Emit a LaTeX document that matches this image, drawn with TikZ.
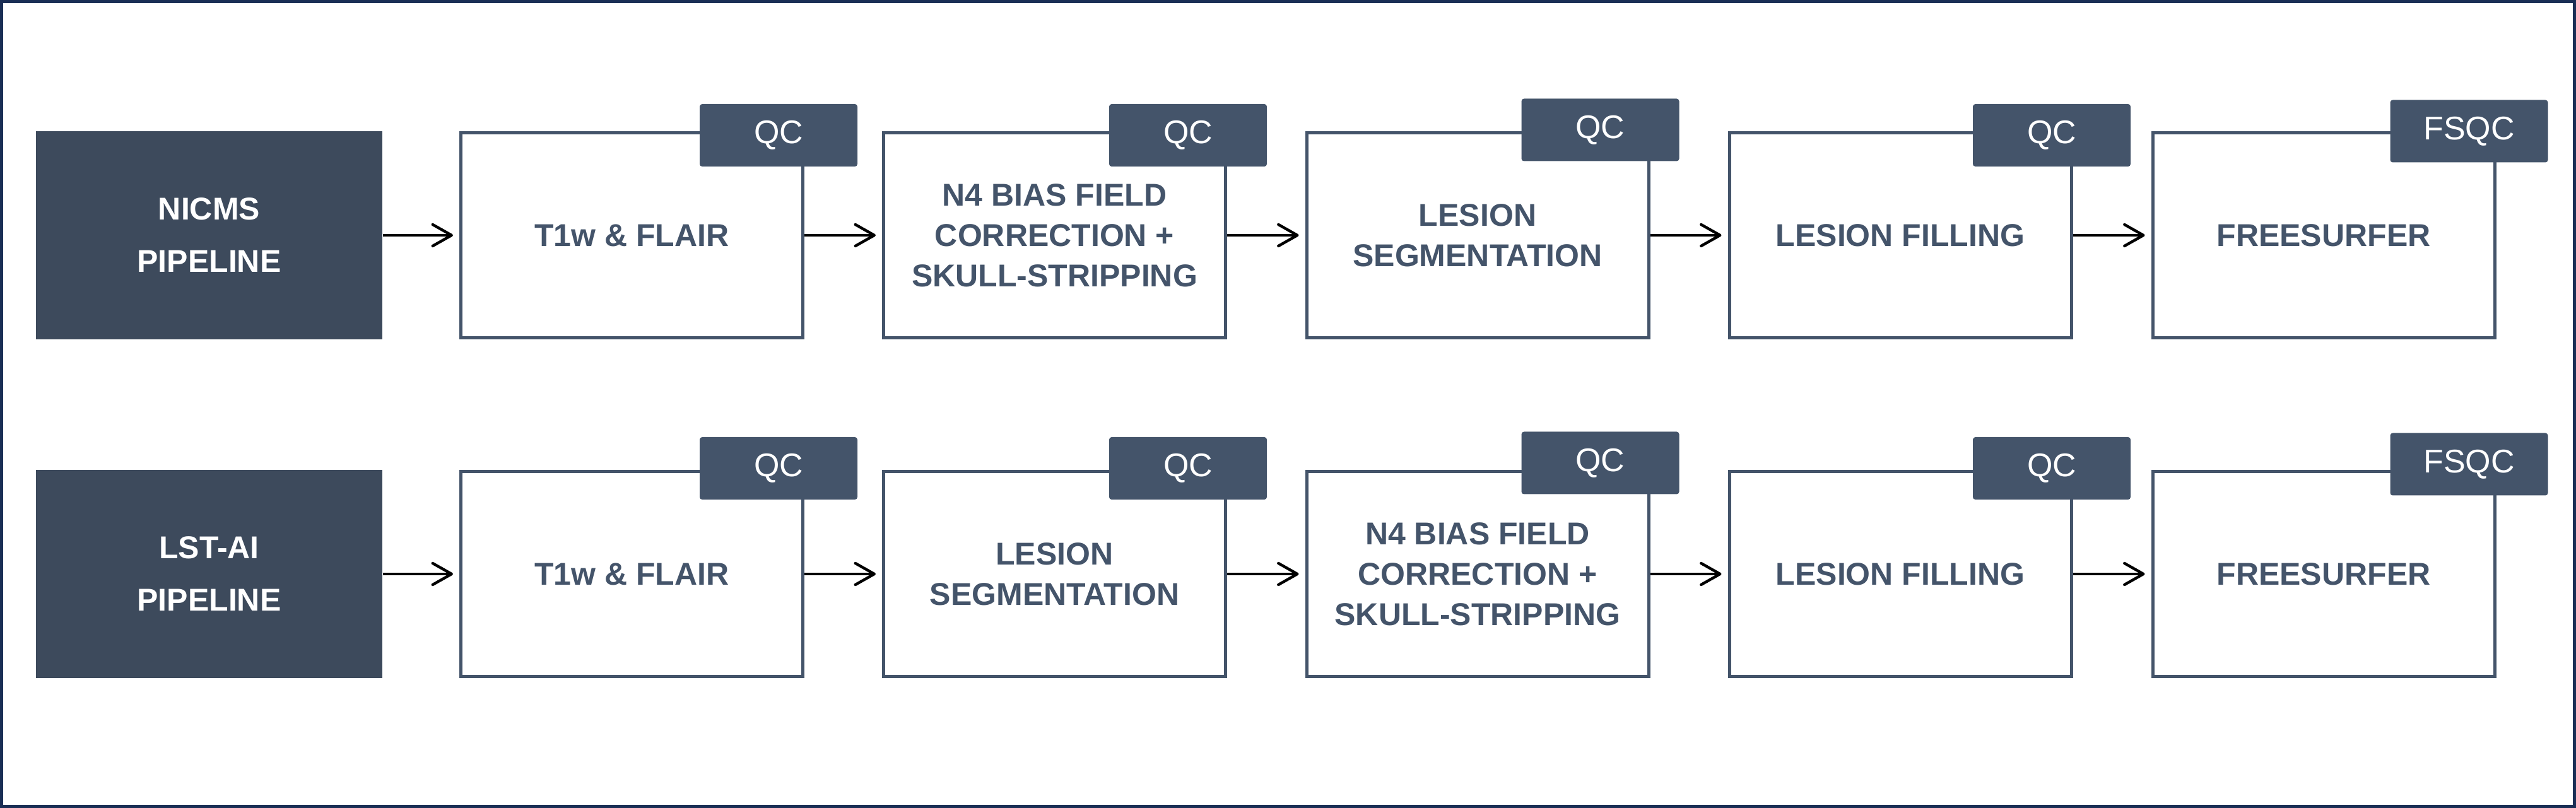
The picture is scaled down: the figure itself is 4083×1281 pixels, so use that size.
\documentclass[tikz,border=0pt]{standalone}
\usepackage{fontspec}
\setmainfont{Liberation Sans}
\usetikzlibrary{arrows.meta}
\definecolor{slate}{HTML}{44546A}
\definecolor{pipefill}{HTML}{3D4A5C}
\definecolor{framecol}{HTML}{1A2E55}
\begin{document}
\begin{tikzpicture}[x=0.25pt,y=-0.25pt,
  stagebox/.style={draw=slate, line width=1.25pt, fill=white, minimum width=135.5pt, minimum height=81.25pt, inner sep=0pt, align=center, text=slate, font=\bfseries\fontsize{12.5}{16}\selectfont},
  pipebox/.style={fill=pipefill, minimum width=137.25pt, minimum height=82.5pt, inner sep=0pt, align=center, text=white, font=\bfseries\fontsize{12.5}{20.75}\selectfont},
  qctag/.style={fill=slate, rounded corners=1pt, minimum width=62.5pt, minimum height=24.75pt, inner sep=0pt, text=white, font=\fontsize{13}{15}\selectfont},
  flowarrow/.style={-{Straight Barb[length=7.5pt,width=8.5pt,line cap=round,line join=round]}, line width=1.1pt, black, shorten >=2.5pt}]
\useasboundingbox (0,0) rectangle (4083,1281);
\draw[framecol, line width=1.25pt] (2.5,2.5) rectangle (4080.5,1278.5);

% Row 1
\node[pipebox] (a0) at (331.5,373) {NICMS\\PIPELINE};
\node[stagebox] (a1) at (1001.5,373) {T1w \& FLAIR};
\node[stagebox] (a2) at (1671.5,373) {N4 BIAS FIELD\\CORRECTION +\\SKULL-STRIPPING};
\node[stagebox] (a3) at (2342,373) {LESION\\SEGMENTATION};
\node[stagebox] (a4) at (3012,373) {LESION FILLING};
\node[stagebox] (a5) at (3683,373) {FREESURFER};
\node[qctag] (qa1) at (1234,214.5) {QC};
\node[qctag] (qa2) at (1883,214.5) {QC};
\node[qctag] (qa3) at (2536.5,206) {QC};
\node[qctag] (qa4) at (3252,214.5) {QC};
\node[qctag] (qa5) at (3913.5,208) {FSQC};
\draw[flowarrow] (a0.east) -- (a1.west);
\draw[flowarrow] (a1.east) -- (a2.west);
\draw[flowarrow] (a2.east) -- (a3.west);
\draw[flowarrow] (a3.east) -- (a4.west);
\draw[flowarrow] (a4.east) -- (a5.west);

% Row 2
\node[pipebox] (b0) at (331.5,910) {LST-AI\\PIPELINE};
\node[stagebox] (b1) at (1001.5,910) {T1w \& FLAIR};
\node[stagebox] (b2) at (1671.5,910) {LESION\\SEGMENTATION};
\node[stagebox] (b3) at (2342,910) {N4 BIAS FIELD\\CORRECTION +\\SKULL-STRIPPING};
\node[stagebox] (b4) at (3012,910) {LESION FILLING};
\node[stagebox] (b5) at (3683,910) {FREESURFER};
\node[qctag] (qb1) at (1234,742.5) {QC};
\node[qctag] (qb2) at (1883,742.5) {QC};
\node[qctag] (qb3) at (2536.5,734) {QC};
\node[qctag] (qb4) at (3252,742.5) {QC};
\node[qctag] (qb5) at (3913.5,736) {FSQC};
\draw[flowarrow] (b0.east) -- (b1.west);
\draw[flowarrow] (b1.east) -- (b2.west);
\draw[flowarrow] (b2.east) -- (b3.west);
\draw[flowarrow] (b3.east) -- (b4.west);
\draw[flowarrow] (b4.east) -- (b5.west);
\end{tikzpicture}
\end{document}
